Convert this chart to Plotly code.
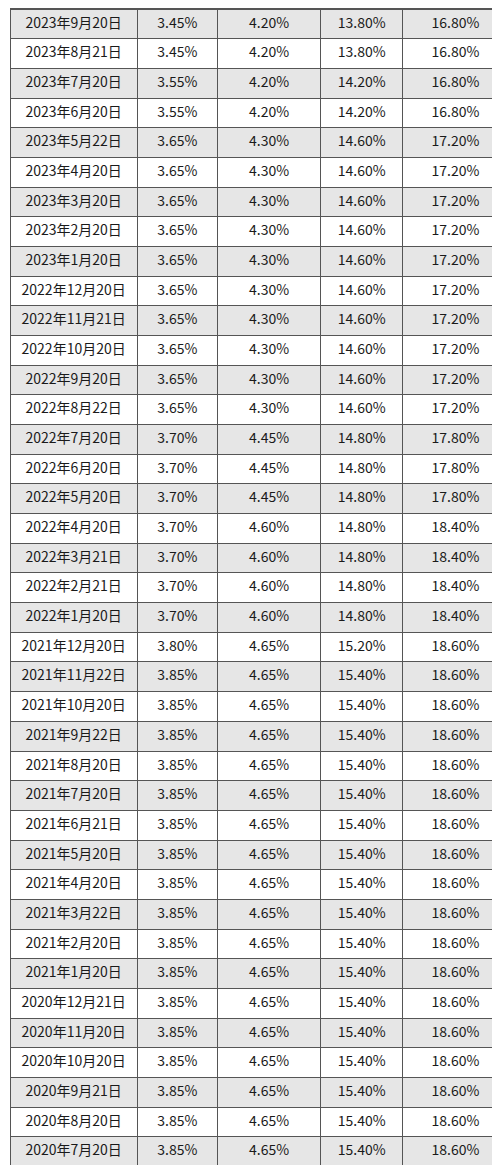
import plotly.graph_objects as go

dates = (["2023年%d月%d日" % (m, d) for m, d in [(9,20),(8,21),(7,20),(6,20),(5,22),(4,20),(3,20),(2,20),(1,20)]]
         + ["2022年%d月%d日" % (m, d) for m, d in [(12,20),(11,21),(10,20),(9,20),(8,22),(7,20),(6,20),(5,20),(4,20),(3,21),(2,21),(1,20)]]
         + ["2021年%d月%d日" % (m, d) for m, d in [(12,20),(11,22),(10,20),(9,22),(8,20),(7,20),(6,21),(5,20),(4,20),(3,22),(2,20),(1,20)]]
         + ["2020年%d月%d日" % (m, d) for m, d in [(12,21),(11,20),(10,20),(9,21),(8,20),(7,20)]])
col1 = ["3.45%"]*2 + ["3.55%"]*2 + ["3.65%"]*10 + ["3.70%"]*7 + ["3.80%"] + ["3.85%"]*17
col2 = ["4.20%"]*4 + ["4.30%"]*10 + ["4.45%"]*3 + ["4.60%"]*4 + ["4.65%"]*18
col3 = ["13.80%"]*2 + ["14.20%"]*2 + ["14.60%"]*10 + ["14.80%"]*7 + ["15.20%"] + ["15.40%"]*17
col4 = ["16.80%"]*4 + ["17.20%"]*10 + ["17.80%"]*3 + ["18.40%"]*4 + ["18.60%"]*18

n = len(dates)
fills = ["#e6e6e6" if i % 2 == 0 else "#ffffff" for i in range(n)]

fig = go.Figure(go.Table(
    columnwidth=[127, 80, 103, 82, 105],
    header=dict(values=["", "", "", "", ""], height=1, fill_color="#ffffff",
                line=dict(color="#555555", width=1)),
    cells=dict(values=[dates, col1, col2, col3, col4],
               height=29.68, align="center",
               fill_color=[fills]*5,
               line=dict(color="#555555", width=1),
               font=dict(family="Noto Sans CJK SC", size=14, color="#1a1a1a")),
    domain=dict(x=[0, 1], y=[0, 1]),
))
fig.update_layout(width=500, height=1165, margin=dict(l=2, r=0, t=0, b=0),
                  paper_bgcolor="white")
fig.write_html("out.html")
